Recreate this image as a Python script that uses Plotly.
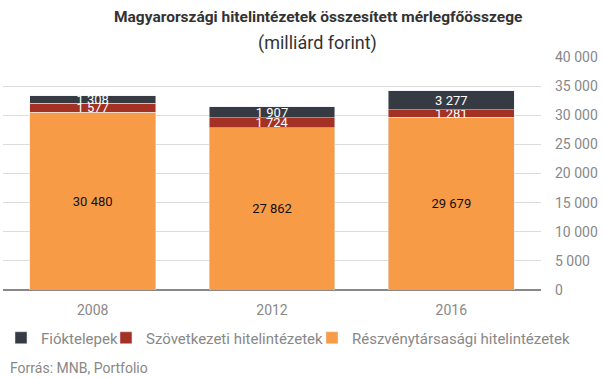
import plotly.graph_objects as go

years = ["2008", "2012", "2016"]
reszveny = [30480, 27862, 29679]
szovetkezeti = [1577, 1724, 1281]
fioktelepek = [1308, 1907, 3277]
y_ticks = [0, 5000, 10000, 15000, 20000, 25000, 30000, 35000, 40000]

FONT = "Roboto"
fig = go.Figure()
common = dict(textposition="inside", insidetextanchor="middle", constraintext="none",
              textangle=0, texttemplate="%{y:,.0f}", hoverinfo="skip")
fig.add_trace(go.Bar(x=years, y=reszveny, name="Részvénytársasági hitelintézetek", legend="legend3",
                     marker_color="#f79b47", textfont=dict(color="#111111", size=13, family=FONT), **common))
fig.add_trace(go.Bar(x=years, y=szovetkezeti, name="Szövetkezeti hitelintézetek", legend="legend2",
                     marker_color="#a33224", textfont=dict(color="white", size=13, family=FONT), **common))
fig.add_trace(go.Bar(x=years, y=fioktelepek, name="Fióktelepek", legend="legend",
                     marker_color="#363a42", textfont=dict(color="white", size=13, family=FONT), **common))

leg_common = dict(orientation="h", y=-0.206, yanchor="middle", xanchor="left",
                  font=dict(size=15, color="#888888", family=FONT), itemwidth=30,
                  bgcolor="rgba(0,0,0,0)")

fig.update_layout(
    width=605, height=378,
    barmode="stack", bargap=0.298,
    separators=", ",
    plot_bgcolor="white", paper_bgcolor="white",
    margin=dict(l=3, r=64, t=57, b=88, autoexpand=False),
    font=dict(family=FONT, color="#888888", size=14),
    showlegend=True,
    legend=dict(x=-0.0037, **leg_common),
    legend2=dict(x=0.1914, **leg_common),
    legend3=dict(x=0.5743, **leg_common),
    xaxis=dict(showgrid=False, tickfont=dict(size=14, color="#888888"), ticks="",
               automargin=False, ticklabelstandoff=10),
    yaxis=dict(side="right", range=[0, 40000], tickvals=y_ticks, tickformat=",d",
               gridcolor="#dddddd", gridwidth=1, zeroline=True, zerolinecolor="#888888",
               zerolinewidth=1.5, tickfont=dict(size=14, color="#888888"),
               ticklabelstandoff=13, automargin=False),
)
fig.add_annotation(text="<b>Magyarországi hitelintézetek összesített mérlegfőösszege</b>",
                   xref="paper", yref="paper", x=0.585, y=1.0, yshift=40, showarrow=False,
                   font=dict(size=15.5, color="#333333", family=FONT), xanchor="center", yanchor="middle")
fig.add_annotation(text="(milliárd forint)", xref="paper", yref="paper", x=0.585, y=1.0, yshift=14,
                   showarrow=False, font=dict(size=18, color="#333333", family=FONT),
                   xanchor="center", yanchor="middle")
fig.add_annotation(text="Forrás: MNB, Portfolio", xref="paper", yref="paper", x=0, xshift=5, y=0, yshift=-78,
                   showarrow=False, font=dict(size=14, color="#888888", family=FONT),
                   xanchor="left", yanchor="middle")

fig.write_html("out.html", config={"displayModeBar": False},
               post_script="document.body.style.margin='0';document.body.style.overflow='hidden';")
